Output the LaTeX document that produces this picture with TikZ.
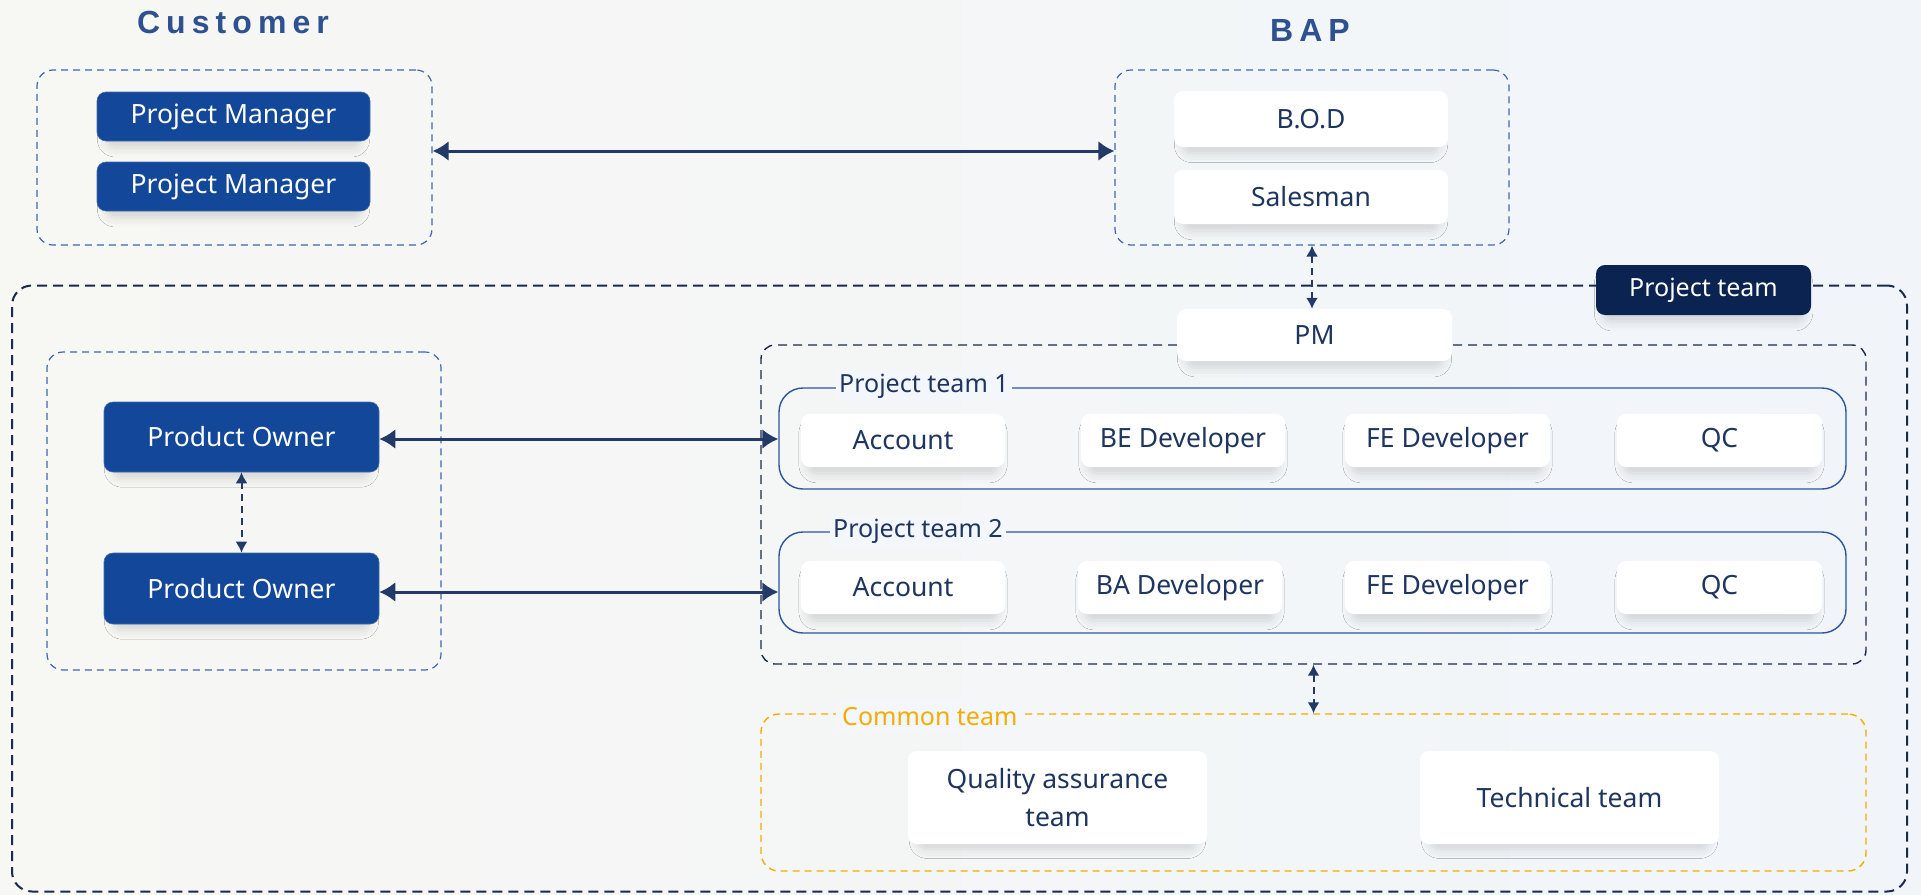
\documentclass[tikz,border=0pt]{standalone}
\usepackage{fontspec}
\setmainfont{Noto Sans}
\newfontfamily\titlefont[LetterSpace=19]{Liberation Sans}
\usetikzlibrary{arrows.meta,shadows.blur}
\definecolor{bgA}{HTML}{F7F7F3}
\definecolor{bgB}{HTML}{F1F5FA}
\definecolor{bgC}{HTML}{F3F6FA}
\definecolor{darkblue}{HTML}{13479A}
\definecolor{navytext}{HTML}{1E3560}
\definecolor{arrowc}{HTML}{233A68}
\definecolor{titlec}{HTML}{2E5190}
\definecolor{groupc}{HTML}{3D68B0}
\definecolor{outerc}{HTML}{1A2A4D}
\definecolor{ptlabel}{HTML}{0B2350}
\definecolor{teamc}{HTML}{2C55A0}
\definecolor{orangec}{HTML}{F5AC00}
\tikzset{
  shadowed/.style={blur shadow={shadow xshift=0pt, shadow yshift=-9pt, shadow blur radius=10pt, shadow opacity=14, shadow scale=0.93}},
  basebox/.style={rectangle, rounded corners=9pt, align=center, font=\fontsize{26.5}{34}\selectfont, shadowed},
  darkbox/.style={basebox, fill=darkblue, text=white, draw=darkblue!80!white, line width=0.6pt},
  whitebox/.style={basebox, fill=white, text=navytext},
  groupbox/.style={rectangle, rounded corners=16pt, draw=groupc, line width=1.2pt, dash pattern=on 7pt off 5pt},
  outerbox/.style={rectangle, rounded corners=20pt, draw=outerc, line width=2pt, dash pattern=on 10pt off 6pt},
  innerbox/.style={rectangle, rounded corners=14pt, draw=outerc, line width=1.4pt, dash pattern=on 9pt off 6pt},
  teambox/.style={rectangle, rounded corners=24pt, draw=teamc, line width=1.4pt},
  commonbox/.style={rectangle, rounded corners=18pt, draw=orangec, line width=1.4pt, dash pattern=on 7pt off 5pt},
  biarrow/.style={draw=arrowc, line width=3pt, {Latex[length=16pt,width=20pt]}-{Latex[length=16pt,width=20pt]}},
  dasharrow/.style={draw=arrowc, line width=2pt, dash pattern=on 7pt off 5pt, {Latex[length=11pt,width=12pt]}-{Latex[length=11pt,width=12pt]}},
  lbl/.style={inner sep=3pt, font=\fontsize{25}{28}\selectfont, text=navytext, fill=bgC, anchor=west},
  title/.style={font=\titlefont\bfseries\fontsize{32}{36}\selectfont, text=titlec}
}
\begin{document}
\begin{tikzpicture}[x=1pt,y=-1pt]
% background
\shade[left color=bgA, right color=bgB] (0,0) rectangle (1921,894);
\useasboundingbox (0,0) rectangle (1921,894);

% titles
\node[title] (custtitle) at (233,22) {Customer};
\node[title] (baptitle) at (1310,30) {BAP};

% customer group
\node[groupbox, minimum width=395pt, minimum height=175pt] (cust) at (234.5,157.5) {};
\node[darkbox, minimum width=273pt, minimum height=49pt] (pm1) at (233.5,116.5) {Project Manager};
\node[darkbox, minimum width=273pt, minimum height=49pt] (pm2) at (233.5,186.5) {Project Manager};

% BAP group
\node[groupbox, minimum width=394pt, minimum height=175pt] (bap) at (1312,157.5) {};
\node[whitebox, minimum width=274pt, minimum height=56pt] (bod) at (1311,119) {B.O.D};
\node[whitebox, minimum width=274pt, minimum height=54pt] (sales) at (1311,197) {Salesman};

% outer project team
\node[outerbox, minimum width=1895pt, minimum height=606pt] (outer) at (959.5,588.5) {};
\node[rectangle, rounded corners=9pt, fill=ptlabel, text=white, font=\fontsize{25}{28}\selectfont,
  minimum width=215pt, minimum height=50pt, shadowed] (ptl) at (1703.5,290) {Project team};

% customer side product owners
\node[groupbox, minimum width=394pt, minimum height=318pt] (po) at (244,511) {};
\node[darkbox, minimum width=275pt, minimum height=70pt] (po1) at (241.5,437) {Product Owner};
\node[darkbox, minimum width=275pt, minimum height=71pt] (po2) at (241.5,588.5) {Product Owner};

% inner project teams
\node[innerbox, minimum width=1105pt, minimum height=319pt] (inner) at (1313.5,504.5) {};
\node[whitebox, minimum width=275pt, minimum height=52pt] (pm) at (1314.5,335) {PM};

\node[teambox, minimum width=1067pt, minimum height=101pt] (pt1) at (1312.5,438.5) {};
\node[lbl] (pt1l) at (836,386) {Project team 1};
\node[whitebox, minimum width=204pt, minimum height=53pt] (acc1) at (903,440.5) {Account};
\node[whitebox, minimum width=204pt, minimum height=53pt] (be1) at (1183,440.5) {BE Developer};
\node[whitebox, minimum width=205pt, minimum height=53pt] (fe1) at (1447.5,440.5) {FE Developer};
\node[whitebox, minimum width=205pt, minimum height=53pt] (qc1) at (1719.5,440.5) {QC};

\node[teambox, minimum width=1067pt, minimum height=101pt] (pt2) at (1312.5,582.5) {};
\node[lbl] (pt2l) at (830,531) {Project team 2};
\node[whitebox, minimum width=204pt, minimum height=53pt] (acc2) at (903,587.5) {Account};
\node[whitebox, minimum width=204pt, minimum height=53pt] (ba2) at (1180,587.5) {BA Developer};
\node[whitebox, minimum width=205pt, minimum height=53pt] (fe2) at (1447.5,587.5) {FE Developer};
\node[whitebox, minimum width=205pt, minimum height=53pt] (qc2) at (1719.5,587.5) {QC};

% common team
\node[commonbox, minimum width=1105pt, minimum height=157pt] (common) at (1313.5,792.5) {};
\node[lbl, text=orangec, fill=bgC, inner sep=6pt] (commonl) at (836,717) {Common team};
\node[whitebox, minimum width=299pt, minimum height=93pt, font=\fontsize{26.5}{38}\selectfont] (qa) at (1057.5,797.5) {Quality assurance\\team};
\node[whitebox, minimum width=299pt, minimum height=93pt] (tech) at (1569.5,797.5) {Technical team};

% connectors
\draw[biarrow] ([yshift=6.5pt]cust.east) -- ([yshift=6.5pt]bap.west);
\draw[dasharrow] (bap.south) -- (bap.south |- pm.north);
\draw[biarrow] ([yshift=-2pt]po1.east) -- ([yshift=-2pt]po1.east -| pt1.west);
\draw[biarrow] ([yshift=-3.5pt]po2.east) -- ([yshift=-3.5pt]po2.east -| pt2.west);
\draw[dasharrow] (po1.south) -- (po2.north);
\draw[dasharrow] (inner.south) -- (common.north);
\end{tikzpicture}
\end{document}
